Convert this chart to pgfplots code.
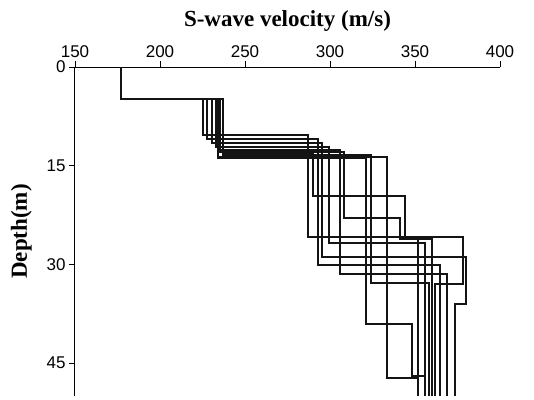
\documentclass[border=0pt]{standalone}
\usepackage{fontspec}
\setmainfont{Liberation Serif}
\setsansfont{Liberation Sans}
\usepackage{pgfplots}
\pgfplotsset{compat=1.18}
\pgfplotsset{prof/.style={color=black!92, solid, mark=none, line width=2pt, line join=miter}}
\begin{document}
\begin{tikzpicture}
\useasboundingbox (-75pt,-3pt) rectangle (459pt,396pt);
\begin{axis}[
  scale only axis, width=425pt, height=329pt,
  xmin=150, xmax=400, ymin=0, ymax=50, y dir=reverse,
  axis x line*=top, axis y line*=left,
  axis line style={line width=1pt},
  xtick={150,200,250,300,350,400}, ytick={0,15,30,45},
  tick align=outside, major tick length=6pt,
  tick style={line width=0.9pt, black},
  ticklabel style={font=\sffamily\fontsize{17}{17}\selectfont},
  /pgf/number format/assume math mode=true,
  xlabel={\textbf{S-wave velocity (m/s)}},
  xlabel style={font=\fontsize{23}{23}\selectfont, yshift=7pt},
  ylabel={\textbf{Depth(m)}},
  ylabel style={font=\fontsize{23}{23}\selectfont, yshift=8pt},
  clip=false,
]
% A
\addplot[prof] coordinates {(177,0)(177,4.8)(225.5,4.8)(225.5,10.4)(287,10.4)(287,25.8)(352,25.8)(352,50)};
% B
\addplot[prof] coordinates {(177,0)(177,4.8)(227.8,4.8)(227.8,11.0)(292.8,11.0)(292.8,30.1)(364.7,30.1)(364.7,50)};
% C
\addplot[prof] coordinates {(177,0)(177,4.8)(230.4,4.8)(230.4,11.6)(295.5,11.6)(295.5,28.8)(380,28.8)(380,36)(373.5,36)(373.5,50)};
% D
\addplot[prof] coordinates {(177,0)(177,4.8)(232.8,4.8)(232.8,12.2)(299.6,12.2)(299.6,26.8)(356,26.8)(356,50)};
% E
\addplot[prof] coordinates {(177,0)(177,4.8)(235.3,4.8)(235.3,12.6)(305.9,12.6)(305.9,31.4)(368.8,31.4)(368.8,50)};
% F
\addplot[prof] coordinates {(177,0)(177,4.8)(235.3,4.8)(235.3,12.9)(308.2,12.9)(308.2,23.0)(341,23.0)(341,26.2)(360,26.2)(360,50)};
% G
\addplot[prof] coordinates {(177,0)(177,4.8)(237.2,4.8)(237.2,13.1)(289.8,13.1)(289.8,19.6)(344,19.6)(344,25.9)(378,25.9)(378,33)(362,33)(362,50)};
% H
\addplot[prof] coordinates {(177,0)(177,4.8)(237.2,4.8)(237.2,13.4)(324.1,13.4)(324.1,32.9)(358,32.9)(358,50)};
% I
\addplot[prof] coordinates {(177,0)(177,4.8)(234.3,4.8)(234.3,13.7)(333.7,13.7)(333.7,47.3)(352,47.3)(352,50)};
% J
\addplot[prof] coordinates {(177,0)(177,4.8)(234.3,4.8)(234.3,13.9)(321.2,13.9)(321.2,39.0)(348,39.0)(348,47.0)(356,47.0)(356,50)};
\end{axis}
\end{tikzpicture}
\end{document}
